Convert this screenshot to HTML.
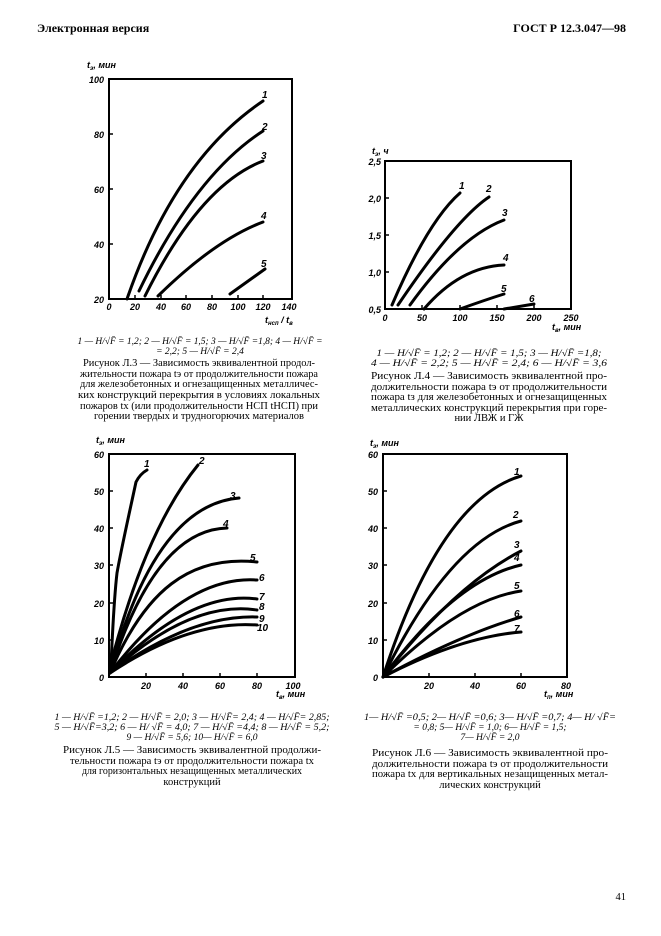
<!DOCTYPE html>
<html><head><meta charset="utf-8"><style>
html,body{margin:0;padding:0;background:#fff}
svg{display:block}
.h{font-family:"Liberation Serif",serif;font-weight:bold;font-size:12px}
.c{font-family:"Liberation Serif",serif;font-size:10.5px}
.l{font-family:"Liberation Serif",serif;font-size:9.5px;font-style:italic}
.t{font-family:"Liberation Sans",sans-serif;font-weight:bold;font-style:italic;font-size:9px}
.n{font-family:"Liberation Sans",sans-serif;font-weight:bold;font-style:italic;font-size:10px}
.cv{fill:none;stroke:#000;stroke-width:3;stroke-linecap:round}
.fr{fill:none;stroke:#000;stroke-width:2}
</style></head><body>
<svg width="661" height="936" viewBox="0 0 661 936" xmlns="http://www.w3.org/2000/svg">
<text class="h" x="37" y="32">Электронная версия</text>
<text class="h" x="626" y="32" text-anchor="end">ГОСТ Р 12.3.047—98</text>

<!-- Chart 1 -->
<rect class="fr" x="109" y="79" width="183" height="220"/>
<g stroke="#000" stroke-width="1.5">
<path d="M109,134h4M109,189h4M109,244h4M135,299v-4M161,299v-4M186,299v-4M212,299v-4M238,299v-4M263,299v-4"/>
</g>
<g class="t" text-anchor="end">
<text x="104" y="83">100</text><text x="104" y="138">80</text><text x="104" y="193">60</text><text x="104" y="248">40</text><text x="104" y="303">20</text>
</g>
<g class="t" text-anchor="middle">
<text x="109" y="310">0</text><text x="135" y="310">20</text><text x="161" y="310">40</text><text x="186" y="310">60</text><text x="212" y="310">80</text><text x="238" y="310">100</text><text x="263" y="310">120</text><text x="289" y="310">140</text>
</g>
<text class="t" x="87" y="68">t<tspan font-size="6" dy="2">э</tspan><tspan dy="-2">, мин</tspan></text>
<text class="t" x="265" y="323">t<tspan font-size="6" dy="2">нсп</tspan><tspan dy="-2"> / t</tspan><tspan font-size="6" dy="2">в</tspan></text>
<path class="cv" d="M127,299 Q175,160 263,101"/>
<path class="cv" d="M139,291 Q195,175 263,131"/>
<path class="cv" d="M145,296 Q200,185 263,161"/>
<path class="cv" d="M158,296 Q215,240 263,222"/>
<path class="cv" d="M230,294 L265,269"/>
<g class="n"><text x="262" y="98">1</text><text x="262" y="130">2</text><text x="261" y="159">3</text><text x="261" y="219">4</text><text x="261" y="267">5</text></g>
<g class="l" text-anchor="middle"><text x="200" y="344" textLength="245" lengthAdjust="spacingAndGlyphs">1 — H/√F̄ = 1,2; 2 — H/√F̄ = 1,5; 3 — H/√F̄ =1,8; 4 — H/√F̄ =</text><text x="200" y="354">= 2,2; 5 — H/√F̄ = 2,4</text></g>
<g class="c" text-anchor="middle">
<text x="199" y="366" textLength="232" lengthAdjust="spacingAndGlyphs">Рисунок Л.3 — Зависимость эквивалентной продол-</text>
<text x="199" y="377" textLength="238" lengthAdjust="spacingAndGlyphs">жительности пожара tэ от продолжительности пожара</text>
<text x="199" y="387" textLength="238" lengthAdjust="spacingAndGlyphs">для железобетонных и огнезащищенных металличес-</text>
<text x="199" y="398" textLength="242" lengthAdjust="spacingAndGlyphs">ких конструкций перекрытия в условиях локальных</text>
<text x="199" y="409" textLength="238" lengthAdjust="spacingAndGlyphs">пожаров tх (или продолжительности НСП tНСП) при</text>
<text x="199" y="419" textLength="210" lengthAdjust="spacingAndGlyphs">горении твердых и трудногорючих материалов</text>
</g>

<!-- Chart 2 -->
<rect class="fr" x="385" y="161" width="186" height="148"/>
<g stroke="#000" stroke-width="1.5">
<path d="M385,198h4M385,235h4M385,272h4M422,309v-4M460,309v-4M497,309v-4M534,309v-4"/>
</g>
<g class="t" text-anchor="end">
<text x="381" y="165">2,5</text><text x="381" y="202">2,0</text><text x="381" y="239">1,5</text><text x="381" y="276">1,0</text><text x="381" y="313">0,5</text>
</g>
<g class="t" text-anchor="middle">
<text x="385" y="321">0</text><text x="422" y="321">50</text><text x="460" y="321">100</text><text x="497" y="321">150</text><text x="534" y="321">200</text><text x="571" y="321">250</text>
</g>
<text class="t" x="372" y="154">t<tspan font-size="6" dy="2">э</tspan><tspan dy="-2">, ч</tspan></text>
<text class="t" x="552" y="330">t<tspan font-size="6" dy="2">в</tspan><tspan dy="-2">, мин</tspan></text>
<path class="cv" d="M392,305 Q428,221 460,193"/>
<path class="cv" d="M398,305 Q456,219 489,197"/>
<path class="cv" d="M410,305 Q459,237 504,220"/>
<path class="cv" d="M424,309 Q460,267 504,265"/>
<path class="cv" d="M460,309 Q485,300 504,294"/>
<path class="cv" d="M504,309 L534,304"/>
<path d="M534,304v5" stroke="#000" stroke-width="1"/>
<g class="n"><text x="459" y="189">1</text><text x="486" y="192">2</text><text x="502" y="216">3</text><text x="503" y="261">4</text><text x="501" y="292">5</text><text x="529" y="302">6</text></g>
<g class="l" text-anchor="middle"><text x="489" y="356" textLength="225" lengthAdjust="spacingAndGlyphs">1 — H/√F̄ = 1,2; 2 — H/√F̄ = 1,5; 3 — H/√F̄ =1,8;</text><text x="489" y="366" textLength="236" lengthAdjust="spacingAndGlyphs">4 — H/√F̄ = 2,2; 5 — H/√F̄ = 2,4; 6 — H/√F̄ = 3,6</text></g>
<g class="c" text-anchor="middle">
<text x="489" y="379" textLength="236" lengthAdjust="spacingAndGlyphs">Рисунок Л.4 — Зависимость эквивалентной про-</text>
<text x="489" y="390" textLength="236" lengthAdjust="spacingAndGlyphs">должительности пожара tэ от продолжительности</text>
<text x="489" y="400" textLength="236" lengthAdjust="spacingAndGlyphs">пожара tз для железобетонных и огнезащищенных</text>
<text x="489" y="411" textLength="236" lengthAdjust="spacingAndGlyphs">металлических конструкций перекрытия при горе-</text>
<text x="489" y="421">нии ЛВЖ и ГЖ</text>
</g>

<!-- Chart 3 -->
<rect class="fr" x="109" y="454" width="186" height="223"/>
<g stroke="#000" stroke-width="1.5">
<path d="M109,491h4M109,528h4M109,565h4M109,603h4M109,640h4M146,677v-4M183,677v-4M220,677v-4M257,677v-4"/>
</g>
<g class="t" text-anchor="end">
<text x="104" y="458">60</text><text x="104" y="495">50</text><text x="104" y="532">40</text><text x="104" y="569">30</text><text x="104" y="607">20</text><text x="104" y="644">10</text><text x="104" y="681">0</text>
</g>
<g class="t" text-anchor="middle">
<text x="146" y="689">20</text><text x="183" y="689">40</text><text x="220" y="689">60</text><text x="257" y="689">80</text><text x="293" y="689">100</text>
</g>
<text class="t" x="96" y="443">t<tspan font-size="6" dy="2">э</tspan><tspan dy="-2">, мин</tspan></text>
<text class="t" x="276" y="697">t<tspan font-size="6" dy="2">в</tspan><tspan dy="-2">, мин</tspan></text>
<path class="cv" d="M111,665 C113,620 115,590 117,573 C121,550 130,510 136,482 Q140,474 147,470"/>
<path class="cv" d="M110,667 Q145,530 198,465"/>
<path class="cv" d="M110,673 Q155,505 239,498"/>
<path class="cv" d="M110,673 Q155,530 227,528"/>
<path class="cv" d="M110,673 C145,590 190,555 257,562"/>
<path class="cv" d="M110,673 Q185,575 257,580"/>
<path class="cv" d="M110,673 Q190,590 257,599"/>
<path class="cv" d="M110,673 Q190,600 257,610"/>
<path class="cv" d="M110,673 Q190,615 257,617"/>
<path class="cv" d="M110,673 Q190,620 257,625"/>
<g class="n"><text x="144" y="467">1</text><text x="199" y="464">2</text><text x="230" y="499">3</text><text x="223" y="527">4</text><text x="250" y="561">5</text><text x="259" y="581">6</text><text x="259" y="600">7</text><text x="259" y="610">8</text><text x="259" y="622">9</text><text x="257" y="631">10</text></g>
<g class="l" text-anchor="middle">
<text x="192" y="720" textLength="275" lengthAdjust="spacingAndGlyphs">1 — H/√F̄ =1,2; 2 — H/√F̄ = 2,0; 3 — H/√F̄= 2,4; 4 — H/√F̄= 2,85;</text>
<text x="192" y="730" textLength="275" lengthAdjust="spacingAndGlyphs">5 — H/√F̄=3,2; 6 — H/ √F̄ = 4,0; 7 — H/√F̄ =4,4; 8 — H/√F̄ = 5,2;</text>
<text x="192" y="740">9 — H/√F̄ = 5,6; 10— H/√F̄ = 6,0</text>
</g>
<g class="c" text-anchor="middle">
<text x="192" y="753" textLength="258" lengthAdjust="spacingAndGlyphs">Рисунок Л.5 — Зависимость эквивалентной продолжи-</text>
<text x="192" y="764" textLength="244" lengthAdjust="spacingAndGlyphs">тельности пожара tэ от продолжительности пожара tх</text>
<text x="192" y="774" textLength="220" lengthAdjust="spacingAndGlyphs">для горизонтальных незащищенных металлических</text>
<text x="192" y="785">конструкций</text>
</g>

<!-- Chart 4 -->
<rect class="fr" x="383" y="454" width="184" height="223"/>
<g stroke="#000" stroke-width="1.5">
<path d="M383,491h4M383,528h4M383,565h4M383,603h4M383,640h4M429,677v-4M475,677v-4M521,677v-4"/>
</g>
<g class="t" text-anchor="end">
<text x="378" y="458">60</text><text x="378" y="495">50</text><text x="378" y="532">40</text><text x="378" y="569">30</text><text x="378" y="607">20</text><text x="378" y="644">10</text><text x="378" y="681">0</text>
</g>
<g class="t" text-anchor="middle">
<text x="429" y="689">20</text><text x="475" y="689">40</text><text x="521" y="689">60</text><text x="566" y="689">80</text>
</g>
<text class="t" x="370" y="446">t<tspan font-size="6" dy="2">э</tspan><tspan dy="-2">, мин</tspan></text>
<text class="t" x="544" y="697">t<tspan font-size="6" dy="2">п</tspan><tspan dy="-2">, мин</tspan></text>
<path class="cv" d="M383,677 Q440,500 521,476"/>
<path class="cv" d="M383,677 Q450,540 521,521"/>
<path class="cv" d="M383,677 Q455,585 521,551"/>
<path class="cv" d="M383,677 Q455,580 521,565"/>
<path class="cv" d="M383,677 Q460,600 521,591"/>
<path class="cv" d="M383,677 Q460,635 521,617"/>
<path class="cv" d="M383,677 Q460,637 521,632"/>
<g class="n"><text x="514" y="475">1</text><text x="513" y="518">2</text><text x="514" y="548">3</text><text x="514" y="561">4</text><text x="514" y="589">5</text><text x="514" y="617">6</text><text x="514" y="632">7</text></g>
<g class="l" text-anchor="middle">
<text x="490" y="720" textLength="252" lengthAdjust="spacingAndGlyphs">1— H/√F̄ =0,5; 2— H/√F̄ =0,6; 3— H/√F̄ =0,7; 4— H/ √F̄=</text>
<text x="490" y="730">= 0,8; 5— H/√F̄ = 1,0; 6— H/√F̄ = 1,5;</text>
<text x="490" y="740">7— H/√F̄ = 2,0</text>
</g>
<g class="c" text-anchor="middle">
<text x="490" y="756" textLength="236" lengthAdjust="spacingAndGlyphs">Рисунок Л.6 — Зависимость эквивалентной про-</text>
<text x="490" y="767" textLength="236" lengthAdjust="spacingAndGlyphs">должительности пожара tэ от продолжительности</text>
<text x="490" y="777" textLength="236" lengthAdjust="spacingAndGlyphs">пожара tх для вертикальных незащищенных метал-</text>
<text x="490" y="788">лических конструкций</text>
</g>

<text class="c" x="626" y="900" text-anchor="end" font-size="11">41</text>
</svg>
</body></html>
